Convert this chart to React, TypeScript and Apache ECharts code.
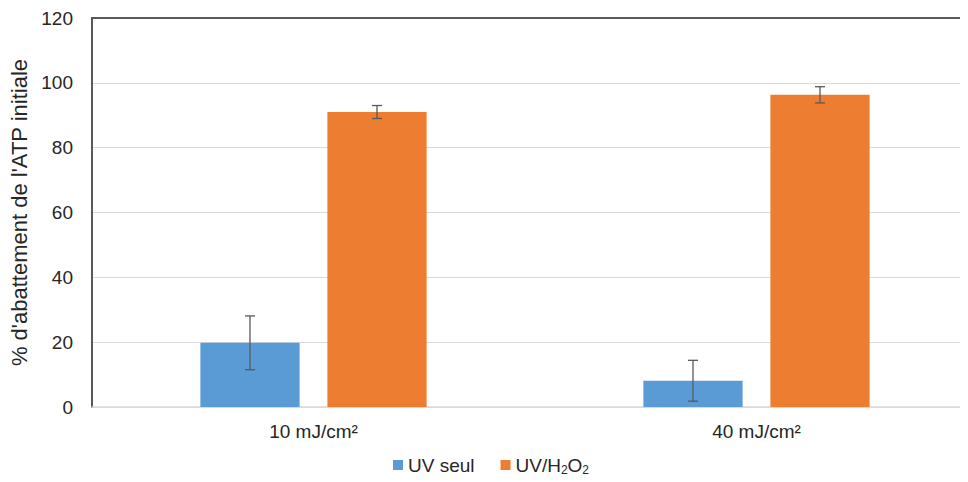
import React, { useEffect, useRef } from "react";
import * as echarts from "echarts";

const categories = ["10 mJ/cm²", "40 mJ/cm²"];
const seriesNames = ["UV seul", "UV/H2O2"];
const uvSeul = [19.8, 8.1];
const uvSeulErr = [8.3, 6.3];
const uvH2O2 = [91.0, 96.3];
const uvH2O2Err = [2.0, 2.5];
const yTicks = { min: 0, max: 120, interval: 20 };

const colors = ["#5b9bd5", "#ed7d31"];
const FONT = "Liberation Sans, Arial, sans-serif";
const TXT = "#262626";

function errorSeries(values: number[], errs: number[], seriesIndex: number) {
  const data = values.map((v, i) => [i, v - errs[i], v + errs[i]]);
  return {
    type: "custom",
    name: "err" + seriesIndex,
    z: 10,
    silent: true,
    renderItem: (params: any, api: any) => {
      const idx = api.value(0);
      const lo = api.coord([idx, api.value(1)]);
      const hi = api.coord([idx, api.value(2)]);
      const bandW = api.size([1, 0])[0];
      const barW = bandW * 0.224;
      const gap = barW * 0.28;
      const offset = seriesIndex === 0 ? -(gap / 2 + barW / 2) : gap / 2 + barW / 2;
      const x = lo[0] + offset;
      const cap = 5;
      const style = { stroke: "#595959", lineWidth: 1.3 };
      return {
        type: "group",
        children: [
          { type: "line", shape: { x1: x, y1: lo[1], x2: x, y2: hi[1] }, style },
          { type: "line", shape: { x1: x - cap, y1: lo[1], x2: x + cap, y2: lo[1] }, style },
          { type: "line", shape: { x1: x - cap, y1: hi[1], x2: x + cap, y2: hi[1] }, style },
        ],
      };
    },
    data,
  };
}

export default function App() {
  const ref = useRef<HTMLDivElement>(null);
  useEffect(() => {
    if (!ref.current) return;
    const chart = echarts.init(ref.current, null, { renderer: "svg" });
    chart.setOption({
      animation: false,
      color: colors,
      grid: { left: 92, top: 18, bottom: 75, right: 0, containLabel: false },
      legend: {
        data: seriesNames,
        top: 454,
        left: 393,
        padding: 0,
        itemWidth: 10,
        itemHeight: 10,
        itemGap: 26,
        icon: "rect",
        textStyle: {
          fontFamily: FONT,
          fontSize: 19,
          color: TXT,
          rich: {
            a: { fontFamily: FONT, fontSize: 19, color: TXT, lineHeight: 26 },
            s: { fontFamily: FONT, fontSize: 12, color: TXT, lineHeight: 26, padding: [10, 0, 0, 0] },
          },
        },
        formatter: (name: string) =>
          name === "UV/H2O2" ? "{a|UV/H}{s|2}{a|O}{s|2}" : "{a|" + name + "}",
      },
      xAxis: [
        {
          type: "category",
          data: categories,
          axisLine: { show: true, lineStyle: { color: "#d9d9d9", width: 1.5 } },
          axisTick: { show: false },
          axisLabel: { fontFamily: FONT, fontSize: 19, color: TXT, margin: 15 },
        },
        {
          type: "category",
          position: "top",
          data: categories,
          axisLine: { show: true, lineStyle: { color: "#595959", width: 2 } },
          axisTick: { show: false },
          axisLabel: { show: false },
        },
      ],
      yAxis: {
        type: "value",
        min: yTicks.min,
        max: yTicks.max,
        interval: yTicks.interval,
        name: "% d'abattement de l'ATP initiale",
        nameLocation: "middle",
        nameRotate: 90,
        nameGap: 62,
        nameTextStyle: { fontFamily: FONT, fontSize: 22, color: TXT },
        axisLine: { show: true, lineStyle: { color: "#595959", width: 2 } },
        axisTick: { show: false },
        axisLabel: { fontFamily: FONT, fontSize: 19, color: TXT, margin: 19 },
        splitLine: { lineStyle: { color: "#d9d9d9", width: 1 } },
      },
      series: [
        { type: "bar", name: seriesNames[0], data: uvSeul, barWidth: "22.4%", barGap: "28%", xAxisIndex: 0 },
        { type: "bar", name: seriesNames[1], data: uvH2O2, barWidth: "22.4%", barGap: "28%", xAxisIndex: 0 },
        errorSeries(uvSeul, uvSeulErr, 0),
        errorSeries(uvH2O2, uvH2O2Err, 1),
      ],
    });
    return () => chart.dispose();
  }, []);
  return (
    <div style={{ width: 968, height: 482, margin: -8, overflow: "hidden", position: "relative" }}>
      <div ref={ref} style={{ width: 978, height: 482 }} />
    </div>
  );
}
